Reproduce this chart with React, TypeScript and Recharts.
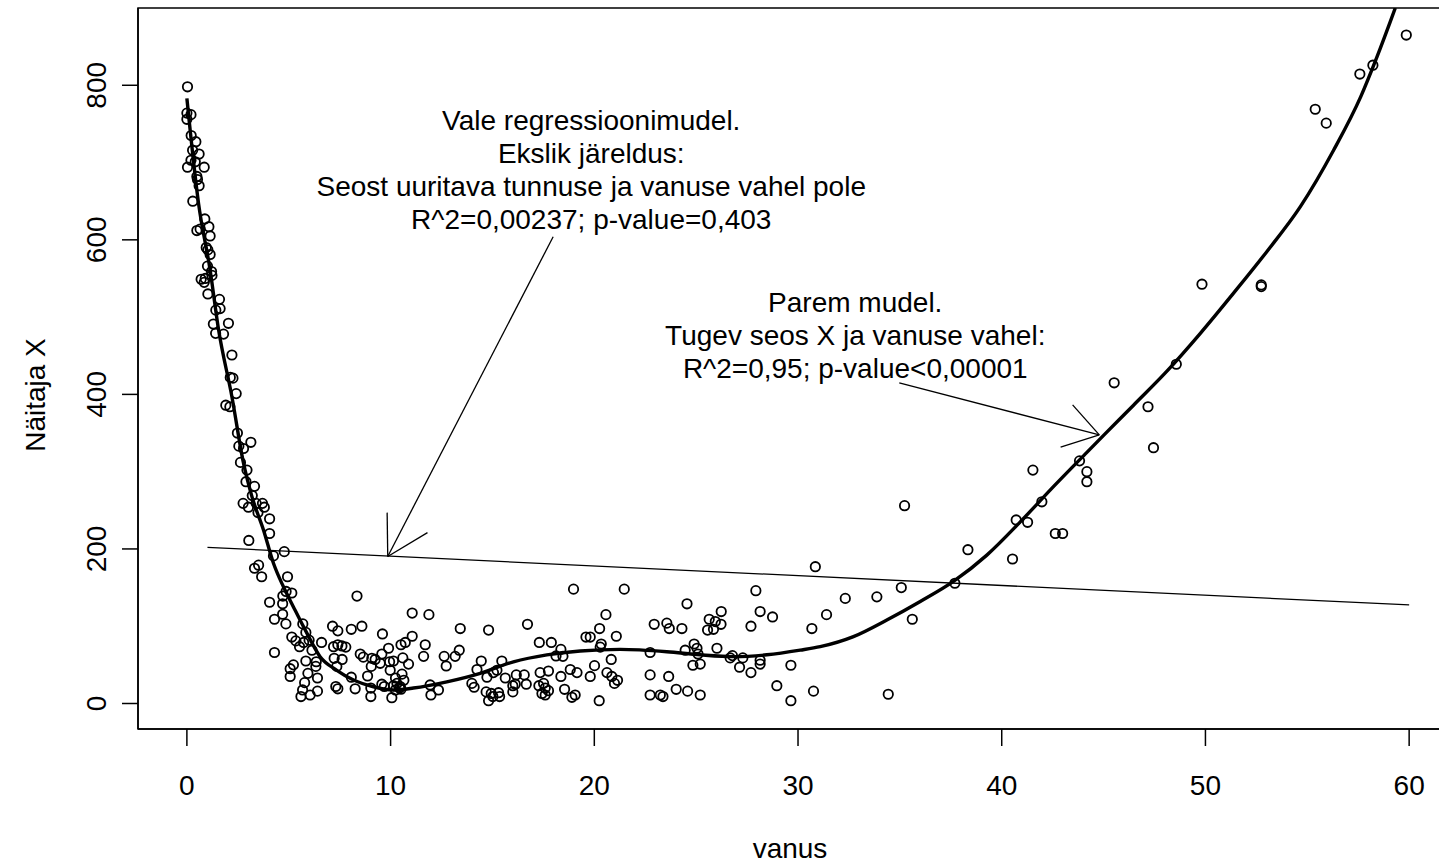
import {
  ComposedChart,
  Line,
  ReferenceArea,
  ReferenceDot,
  ReferenceLine,
  Scatter,
  XAxis,
  YAxis,
} from "recharts";

const FONT = "'Liberation Sans', Arial, Helvetica, sans-serif";

// observations: [vanus, näitaja X]
const infants: [number, number][] = [
  [0.03, 798], [0, 764], [0.2, 762], [0, 756], [0.21, 735], [0.44, 727], [0.28, 716],
  [0.6, 711], [0.2, 703], [0.41, 701], [0.03, 694], [0.85, 694], [0.49, 682], [0.52, 678],
  [0.6, 670], [0.29, 650], [0.88, 627], [1.08, 617], [0.49, 612], [0.65, 614], [1.14, 605],
  [0.95, 590], [1.03, 587], [1.14, 581], [1.01, 566], [1.21, 559], [1.23, 554], [0.7, 549],
  [0.9, 550], [0.85, 545], [1.03, 530], [1.6, 523], [1.42, 509], [1.63, 511], [1.3, 491],
  [2.04, 492], [1.41, 479], [1.8, 478], [2.21, 451], [2.13, 422], [2.26, 421], [2.42, 401],
  [1.91, 386], [2.11, 384], [2.48, 350], [3.14, 338], [2.55, 333], [2.78, 330], [2.63, 312],
  [2.95, 302], [2.9, 287], [3.32, 281], [3.21, 269], [2.76, 259], [3.02, 254], [3.4, 259],
  [3.71, 259], [3.8, 254], [3.49, 247], [4.06, 239], [4.06, 220], [3.04, 211], [4.78, 196.5],
  [4.25, 191], [3.32, 175], [3.52, 179], [3.67, 164], [4.94, 164],
];

const children: [number, number][] = [
  [4.87, 145], [5.15, 143], [4.71, 139], [8.35, 139], [4.06, 131], [4.7, 129], [4.7, 115.5],
  [4.3, 109], [4.86, 103], [5.69, 103], [7.15, 100], [7.41, 94], [8.07, 96], [8.59, 100],
  [9.6, 90], [5.84, 92], [5.15, 86], [5.35, 81], [5.53, 73.5], [5.73, 79], [6.0, 82],
  [6.61, 79], [6.14, 69], [4.3, 66], [7.2, 73.5], [7.41, 76], [7.61, 74.5], [7.8, 73],
  [8.51, 64], [8.66, 60], [9.9, 71.5], [9.57, 64], [9.08, 58.5], [9.24, 57], [7.23, 58.5],
  [7.62, 57], [5.84, 55], [6.35, 54], [9.49, 52], [9.95, 54], [10.14, 55], [5.23, 50],
  [5.07, 45], [5.94, 39], [6.33, 48], [5.07, 35], [6.41, 33], [9.05, 48], [7.36, 48],
  [9.98, 43], [5.78, 27], [8.07, 34], [8.87, 35.6], [7.31, 22], [7.41, 19], [8.26, 19],
  [5.68, 17.5], [6.41, 16], [5.6, 9], [6.05, 11], [9.57, 25], [9.69, 22], [10.14, 23],
  [10.31, 26], [10.44, 20], [9.03, 20], [9.03, 9], [10.06, 7.5],
];

const youth: [number, number][] = [
  [18.98, 148], [11.06, 117], [11.88, 115], [13.42, 97], [14.81, 95], [16.72, 102.5],
  [11.06, 87], [10.51, 76], [10.72, 79], [11.7, 76], [11.62, 61], [13.37, 69], [13.17, 61],
  [12.63, 61], [12.73, 48.5], [10.6, 59], [10.88, 51], [10.56, 38], [10.24, 33], [10.65, 30],
  [10.47, 22], [10.24, 17.5], [10.51, 18.5], [11.94, 24], [11.98, 11], [12.35, 17.5],
  [14.24, 44], [14.45, 55], [14.73, 34], [15.05, 40], [15.22, 43], [15.46, 55], [13.99, 26],
  [14.1, 21], [14.69, 15], [14.94, 13], [15.02, 9], [15.3, 14], [15.35, 9], [14.81, 3.6],
  [15.63, 33], [16.0, 23], [16.12, 25], [16.0, 15], [16.17, 37], [16.56, 37], [16.66, 25],
  [17.3, 79], [17.89, 79], [18.36, 70], [18.46, 61], [18.12, 61.5], [17.34, 40], [17.75, 42],
  [17.28, 23], [17.51, 26], [17.59, 20], [17.75, 16.6], [17.59, 11], [17.43, 13], [18.36, 35],
  [18.82, 44], [19.15, 40], [18.54, 18.4], [18.9, 8], [19.06, 11], [19.59, 86], [19.8, 86],
  [20.26, 97], [20.57, 115], [20.29, 73], [20.34, 77], [21.08, 87], [20.83, 57], [20.01, 49],
  [19.8, 35], [20.62, 40], [20.86, 35], [20.99, 26], [21.14, 30], [20.24, 3.6],
];

const adults: [number, number][] = [
  [30.85, 177], [21.47, 148], [27.93, 146], [24.55, 129], [22.94, 102.5], [23.56, 104],
  [23.68, 97], [24.3, 97], [25.64, 109], [25.94, 106], [26.23, 119], [26.22, 102.5],
  [25.56, 95], [25.85, 96], [28.14, 119], [28.75, 112], [27.69, 100], [30.68, 97], [31.4, 115],
  [22.74, 66], [22.74, 37], [22.74, 11], [23.24, 11], [23.37, 9], [23.65, 35], [24.02, 18.4],
  [24.58, 16], [25.2, 11], [24.46, 69], [24.9, 77], [25.04, 71.5], [25.09, 64], [24.84, 49.5],
  [25.2, 51], [26.02, 71.5], [26.67, 59], [26.78, 62], [27.29, 59], [27.13, 47], [27.69, 40],
  [28.14, 56], [28.14, 51], [29.65, 49.5], [28.96, 23], [29.65, 3.6], [30.76, 16],
];

const elders: [number, number][] = [
  [35.23, 256], [32.32, 136], [33.87, 138], [35.07, 150], [35.61, 109], [37.7, 155.6],
  [38.34, 199], [40.53, 187], [40.71, 237.5], [41.27, 234.5], [41.53, 302], [41.97, 261],
  [42.63, 220], [42.99, 220], [43.82, 314], [44.18, 300], [44.18, 287], [34.43, 12],
  [59.86, 865], [58.22, 826], [57.58, 814.5], [55.39, 769], [55.93, 751], [49.83, 542.6],
  [52.74, 541.7], [52.74, 539.5], [48.57, 439], [45.52, 415], [47.18, 384], [47.45, 331],
];

// polynomial model, traced along its length
const goodFit: [number, number][] = [
  [0, 783], [0.57, 647.5], [1.14, 561], [1.55, 484.5], [2.21, 397], [2.78, 311], [3.19, 268],
  [3.76, 224.6], [4.25, 181.5], [4.74, 151], [5.23, 125], [5.89, 91], [6.54, 60.6], [7.36, 43],
  [8.18, 30.4], [9.16, 21.7], [10.14, 17.5], [11.12, 20], [12.76, 28], [14.4, 39], [16.03, 54],
  [17.67, 63], [19.31, 68], [21.27, 70], [23.56, 67], [25.2, 63], [26.84, 60.6], [28.47, 63],
  [30.11, 69], [31.09, 73.5], [32.72, 86.5], [34.36, 108], [36, 132], [37.63, 158],
  [39.27, 192], [40.91, 235], [42.55, 281], [44.18, 325], [45, 347], [46.47, 386], [48.11, 430],
  [49.75, 479], [51.38, 531], [53.02, 585], [54.66, 643], [56.29, 716], [57.62, 785],
  [58.44, 838], [59.07, 882], [59.32, 900],
];

// linear model
const badFit: [number, number][] = [
  [1.01, 202],
  [60, 127.5],
];

const xTicks = [0, 10, 20, 30, 40, 50, 60];
const yTicks = [0, 200, 400, 600, 800];

const wrongText = [
  "Vale regressioonimudel.",
  "Ekslik järeldus:",
  "Seost uuritava tunnuse ja vanuse vahel pole",
  "R^2=0,00237; p-value=0,403",
];
const rightText = [
  "Parem mudel.",
  "Tugev seos X ja vanuse vahel:",
  "R^2=0,95; p-value<0,00001",
];

// arrows: shaft, then the two barbs, all from the tip
const arrowWrong = {
  from: { x: 17.98, y: 604 },
  tip: { x: 9.86, y: 190.3 },
  barbs: [
    { x: 9.83, y: 247 },
    { x: 11.81, y: 221.1 },
  ],
};
const arrowRight = {
  from: { x: 34.97, y: 414.9 },
  tip: { x: 44.79, y: 347.6 },
  barbs: [
    { x: 43.48, y: 386.4 },
    { x: 42.89, y: 331.7 },
  ],
};

const toRows = (pairs: [number, number][]) => pairs.map(([x, y]) => ({ x, y }));
const points = toRows([...infants, ...children, ...youth, ...adults, ...elders]);

const OpenCircle = (p: any) => (
  <circle cx={p.cx} cy={p.cy} r={4.7} fill="none" stroke="#000" strokeWidth={1.8} />
);

const XTick = ({ x, y, payload }: any) => (
  <text x={x} y={y + 49} textAnchor="middle" fontFamily={FONT} fontSize={28} fill="#000">
    {payload.value}
  </text>
);

const YTick = ({ x, y, payload }: any) => (
  <text
    x={x - 16}
    y={y}
    transform={`rotate(-90 ${x - 16} ${y})`}
    textAnchor="middle"
    fontFamily={FONT}
    fontSize={28}
    fill="#000"
  >
    {payload.value}
  </text>
);

const textBlock = (lines: string[]) => (p: any) => (
  <text textAnchor="middle" fontFamily={FONT} fontSize={28} fill="#000">
    {lines.map((l, i) => (
      <tspan key={i} x={p.cx} y={p.cy + 10 + i * 33}>
        {l}
      </tspan>
    ))}
  </text>
);

const Arrow = ({ a }: { a: typeof arrowWrong }) => (
  <>
    <ReferenceLine segment={[a.from, a.tip]} stroke="#000" strokeWidth={1.3} />
    {a.barbs.map((b, i) => (
      <ReferenceLine key={i} segment={[a.tip, b]} stroke="#000" strokeWidth={1.3} />
    ))}
  </>
);

export default function App() {
  return (
    <div
      style={{
        position: "fixed",
        left: 0,
        top: 0,
        width: 1439,
        height: 866,
        overflow: "hidden",
        background: "#fff",
      }}
    >
      <ComposedChart width={1470} height={866} margin={{ top: 8, right: 14, left: 0, bottom: 0 }}>
        <XAxis
          type="number"
          dataKey="x"
          domain={[-2.4, 62.3]}
          allowDataOverflow
          ticks={xTicks}
          interval={0}
          height={137}
          tickSize={17}
          tickMargin={0}
          tick={<XTick />}
          axisLine={{ stroke: "#000", strokeWidth: 1.5 }}
          tickLine={{ stroke: "#000", strokeWidth: 1.5 }}
          label={{
            content: ({ viewBox }: any) => (
              <text
                x={viewBox.x + viewBox.width / 2 - 7}
                y={858}
                textAnchor="middle"
                fontFamily={FONT}
                fontSize={28}
                fill="#000"
              >
                vanus
              </text>
            ),
          }}
        />
        <YAxis
          type="number"
          dataKey="y"
          domain={[-33, 900]}
          allowDataOverflow
          ticks={yTicks}
          interval={0}
          width={138}
          tickSize={16}
          tickMargin={0}
          tick={<YTick />}
          axisLine={{ stroke: "#000", strokeWidth: 1.5 }}
          tickLine={{ stroke: "#000", strokeWidth: 1.5 }}
          label={{
            content: () => (
              <text
                x={45}
                y={395}
                transform="rotate(-90 45 395)"
                textAnchor="middle"
                fontFamily={FONT}
                fontSize={28}
                fill="#000"
              >
                Näitaja X
              </text>
            ),
          }}
        />
        <ReferenceArea
          x1={-2.4}
          x2={62.3}
          y1={-33}
          y2={900}
          fill="none"
          stroke="#000"
          strokeWidth={1.5}
          ifOverflow="visible"
        />
        <Line
          data={toRows(badFit)}
          dataKey="y"
          type="linear"
          stroke="#000"
          strokeWidth={1.3}
          dot={false}
          activeDot={false}
          isAnimationActive={false}
        />
        <Line
          data={toRows(goodFit)}
          dataKey="y"
          type="monotone"
          stroke="#000"
          strokeWidth={3.4}
          dot={false}
          activeDot={false}
          isAnimationActive={false}
        />
        <Scatter data={points} dataKey="y" shape={OpenCircle} isAnimationActive={false} />
        <Arrow a={arrowWrong} />
        <Arrow a={arrowRight} />
        <ReferenceDot x={19.85} y={755.3} r={0} shape={textBlock(wrongText)} />
        <ReferenceDot x={32.81} y={519.7} r={0} shape={textBlock(rightText)} />
      </ComposedChart>
    </div>
  );
}
